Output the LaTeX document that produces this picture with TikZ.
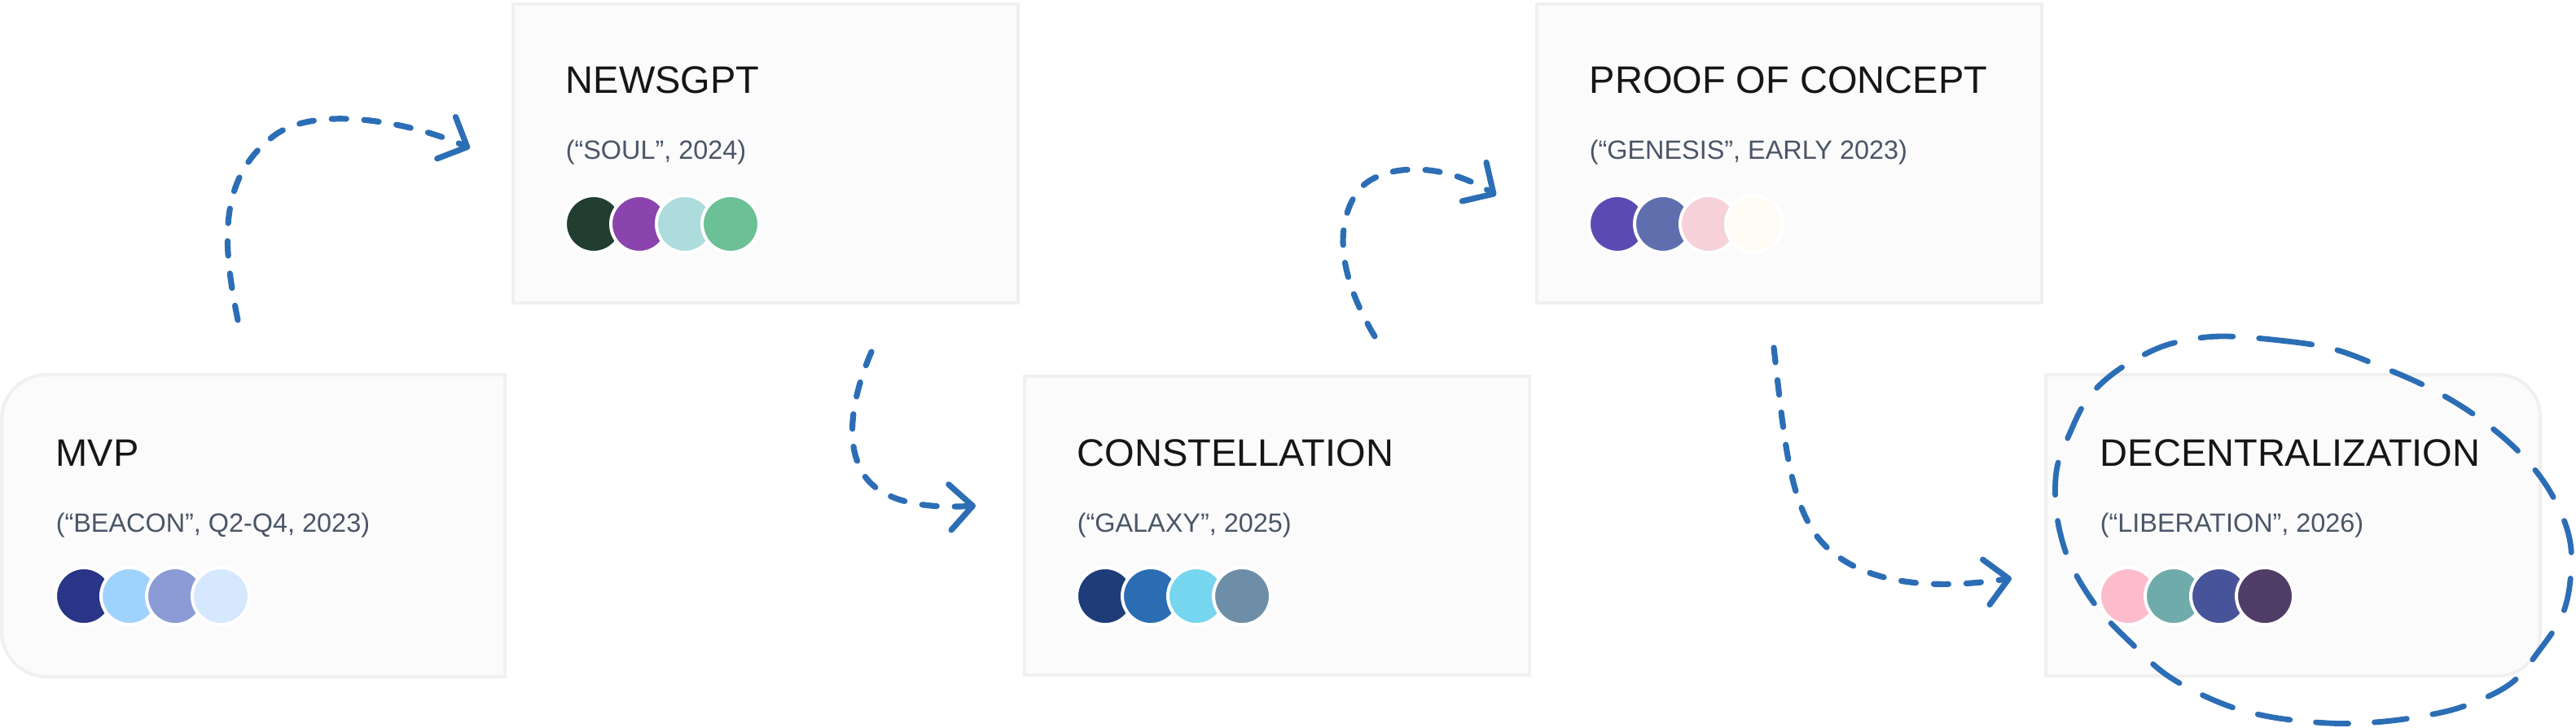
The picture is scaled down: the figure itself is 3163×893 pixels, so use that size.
\documentclass[tikz,border=0pt]{standalone}
\usepackage{fontspec}
\setmainfont{Liberation Sans}
\usetikzlibrary{arrows.meta}
\definecolor{boxfill}{HTML}{FBFBFB}
\definecolor{boxline}{HTML}{F0F0F0}
\definecolor{titlec}{HTML}{161616}
\definecolor{subc}{HTML}{4A5568}
\definecolor{arrowblue}{HTML}{2C6EB5}
% swatch colours
\definecolor{mA}{HTML}{2A3587}\definecolor{mB}{HTML}{A0D2FE}\definecolor{mC}{HTML}{8A9BD5}\definecolor{mD}{HTML}{D6E8FE}
\definecolor{nA}{HTML}{213E30}\definecolor{nB}{HTML}{8B44AE}\definecolor{nC}{HTML}{AEDBDC}\definecolor{nD}{HTML}{6BC096}
\definecolor{cA}{HTML}{1D3C78}\definecolor{cB}{HTML}{2B6DB3}\definecolor{cC}{HTML}{76D5EF}\definecolor{cD}{HTML}{6E8EA8}
\definecolor{pA}{HTML}{5C4AB3}\definecolor{pB}{HTML}{5F6FAE}\definecolor{pC}{HTML}{F6D1D8}\definecolor{pD}{HTML}{FEFCF5}
\definecolor{dA}{HTML}{FDBCCB}\definecolor{dB}{HTML}{6FABAA}\definecolor{dC}{HTML}{475499}\definecolor{dD}{HTML}{4F3D67}
\newcommand\swatchrow[7]{%
  \node[dot, fill=#4] (#1-1) at (#2,#3) {};
  \node[dot, fill=#5] (#1-2) at ({#2+56},#3) {};
  \node[dot, fill=#6] (#1-3) at ({#2+112},#3) {};
  \node[dot, fill=#7] (#1-4) at ({#2+168},#3) {};
}
\tikzset{
  boxpath/.style={draw=boxline, line width=1pt, fill=boxfill},
  rectbox/.style={boxpath, rectangle, inner sep=0pt, anchor=north west,
                  minimum width=155pt, minimum height=91.75pt},
  ghostbox/.style={rectangle, inner sep=0pt, anchor=north west},
  title/.style={anchor=base west, inner sep=0pt, text=titlec,
                font=\fontsize{11.75pt}{14pt}\selectfont},
  subtitle/.style={anchor=base west, inner sep=0pt, text=subc,
                font=\fontsize{8.1pt}{10pt}\selectfont},
  dot/.style={circle, inner sep=0pt, minimum size=17.5pt, draw=white, line width=1pt},
  flow/.style={draw=arrowblue, line width=1.8pt, line cap=round, line join=round,
               dash pattern=on 4.5pt off 5.5pt,
               -{Straight Barb[length=7pt,width=14pt,line cap=round,line join=round]}},
  loopline/.style={draw=arrowblue, line width=1.7pt, line cap=round,
               dash pattern=on 10pt off 8pt}
}
\begin{document}
\begin{tikzpicture}[x=0.25pt,y=-0.25pt]
\useasboundingbox (0,0) rectangle (3163,893);

% ---- MVP (rounded left corners)
\draw[boxpath] (620,460) -- (57,460) .. controls (27,460) and (2,485) .. (2,515)
  -- (2,776) .. controls (2,806) and (27,831) .. (57,831) -- (620,831) -- cycle;
\node[ghostbox, minimum width=154.5pt, minimum height=92.75pt] (mvp) at (2,460) {};
\node[title] (mvpt) at (68,572) {MVP};
\node[subtitle] (mvps) at (68,653) {(“BEACON”, Q2-Q4, 2023)};
\swatchrow{mvpc}{103}{732}{mA}{mB}{mC}{mD}

% ---- NEWSGPT
\node[rectbox] (news) at (628,3) {};
\node[title] (newst) at (694,114) {NEWSGPT};
\node[subtitle] (newss) at (694,195) {(“SOUL”, 2024)};
\swatchrow{newsc}{729}{275}{nA}{nB}{nC}{nD}

% ---- CONSTELLATION
\node[rectbox] (const) at (1256,460) {};
\node[title] (constt) at (1322,572) {CONSTELLATION};
\node[subtitle] (consts) at (1322,653) {(“GALAXY”, 2025)};
\swatchrow{constc}{1357}{732}{cA}{cB}{cC}{cD}

% ---- PROOF OF CONCEPT
\node[rectbox] (proof) at (1885,3) {};
\node[title] (prooft) at (1951,114) {PROOF OF CONCEPT};
\node[subtitle] (proofs) at (1951,195) {(“GENESIS”, EARLY 2023)};
\swatchrow{proofc}{1986}{275}{pA}{pB}{pC}{pD}

% ---- DECENTRALIZATION (rounded right corners)
\draw[boxpath] (2512,460) -- (3067,460) .. controls (3096,460) and (3119,483) .. (3119,512)
  -- (3119,778) .. controls (3119,807) and (3096,830) .. (3067,830) -- (2512,830) -- cycle;
\node[ghostbox, minimum width=151.75pt, minimum height=92.5pt] (dec) at (2512,460) {};
\node[title] (dect) at (2578,572) {DECENTRALIZATION};
\node[subtitle] (decs) at (2578,653) {(“LIBERATION”, 2026)};
\swatchrow{decc}{2613}{732}{dA}{dB}{dC}{dD}

% ---- connectors
\coordinate (a1s) at (292,393);
\coordinate (a1m) at (330,172);
\coordinate (a1e) at (577,182);
\draw[flow] (a1s) .. controls (276,313) and (264,226) .. (a1m)
  .. controls (380,125) and (505,150) .. (a1e);

\coordinate (a2s) at (1070,432);
\coordinate (a2m) at (1055,572);
\coordinate (a2e) at (1198,621);
\draw[flow] (a2s) .. controls (1045,490) and (1040,540) .. (a2m)
  .. controls (1072,615) and (1130,625) .. (a2e);

\coordinate (a3s) at (1688,413);
\coordinate (a3m) at (1665,238);
\coordinate (a3e) at (1837,240);
\draw[flow] (a3s) .. controls (1650,350) and (1635,285) .. (a3m)
  .. controls (1688,202) and (1765,195) .. (a3e);

\coordinate (a4s) at (2178,427);
\coordinate (a4m) at (2225,650);
\coordinate (a4e) at (2470,710);
\draw[flow] (a4s) .. controls (2190,530) and (2195,600) .. (a4m)
  .. controls (2260,705) and (2340,730) .. (a4e);

% ---- hand-drawn loop round DECENTRALIZATION
\draw[loopline] plot[smooth cycle, tension=0.6] coordinates {
  (2730,413) (2799,418) (2863,428) (2923,450) (2984,477) (3039,510) (3091,553)
  (3129,600) (3153,653) (3157,700) (3147,753) (3117,800) (3082,840) (3026,867)
  (2971,880) (2915,887) (2859,888) (2786,880) (2726,863) (2662,830) (2614,787)
  (2576,747) (2546,700) (2531,660) (2524,617) (2526,573) (2541,533) (2563,490)
  (2597,457) (2644,430) (2683,418)};
\end{tikzpicture}
\end{document}
